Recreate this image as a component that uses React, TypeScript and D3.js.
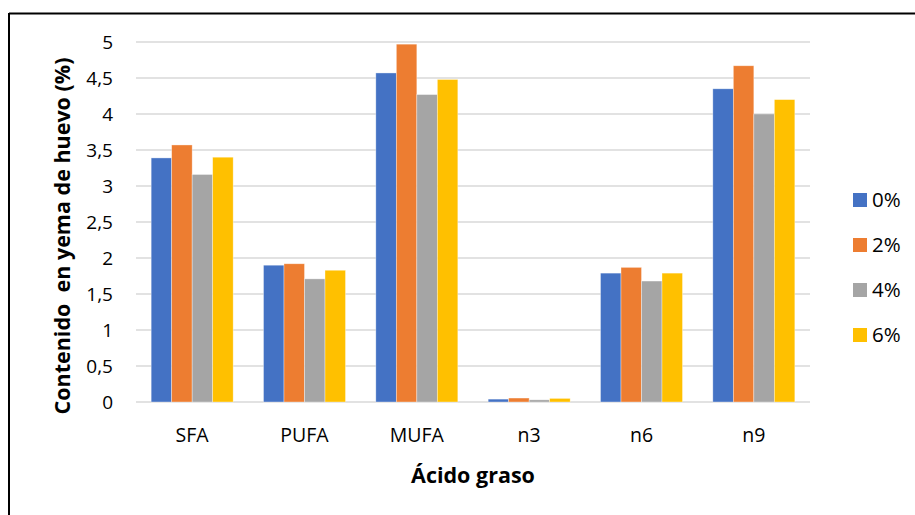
import React from "react";
import * as d3 from "d3";

const categories = ["SFA", "PUFA", "MUFA", "n3", "n6", "n9"];
const seriesNames = ["0%", "2%", "4%", "6%"];
const s0 = [3.39, 1.9, 4.57, 0.04, 1.79, 4.35];
const s2 = [3.57, 1.92, 4.97, 0.055, 1.87, 4.67];
const s4 = [3.16, 1.71, 4.27, 0.03, 1.68, 4.0];
const s6 = [3.4, 1.83, 4.48, 0.05, 1.79, 4.2];
const seriesValues = [s0, s2, s4, s6];
const colors = ["#4472C4", "#ED7D31", "#A5A5A5", "#FFC000"];
const yTicks = [0, 0.5, 1, 1.5, 2, 2.5, 3, 3.5, 4, 4.5, 5];

const W = 915;
const H = 515;
const font = "'Open Sans', sans-serif";

export default function App() {
  const x0 = d3
    .scaleBand<string>()
    .domain(categories)
    .range([136, 810])
    .paddingInner(0.27)
    .paddingOuter(0.135);
  const x1 = d3
    .scaleBand<string>()
    .domain(seriesNames)
    .range([0, x0.bandwidth()]);
  const y = d3.scaleLinear().domain([0, 5]).range([402, 42]);
  const fmt = (v: number) => String(v).replace(".", ",");

  return (
    <svg
      width={W}
      height={H}
      style={{ position: "absolute", left: 0, top: 0, background: "#fff" }}
      fontFamily={font}
    >
      <rect x={0} y={0} width={W} height={H} fill="#fff" />
      {/* frame */}
      <line x1={9} y1={13.5} x2={W} y2={13.5} stroke="#000" strokeWidth={2} />
      <line x1={9} y1={13} x2={9} y2={H} stroke="#000" strokeWidth={2} />
      {/* grid */}
      {yTicks.map((t) => (
        <line
          key={t}
          x1={136}
          x2={810}
          y1={y(t)}
          y2={y(t)}
          stroke="#d9d9d9"
          strokeWidth={1.5}
        />
      ))}
      {/* y tick labels */}
      {yTicks.map((t) => (
        <text
          key={"l" + t}
          x={113}
          y={y(t)}
          dy="0.36em"
          textAnchor="end"
          fontSize={19}
          fill="#000"
        >
          {fmt(t)}
        </text>
      ))}
      {/* bars */}
      {categories.map((c, i) => (
        <g key={c} transform={`translate(${x0(c)},0)`}>
          {seriesNames.map((s, j) => (
            <rect
              key={s}
              x={x1(s)}
              y={y(seriesValues[j][i])}
              width={x1.bandwidth()}
              height={y(0) - y(seriesValues[j][i])}
              fill={colors[j]}
              stroke="#fff"
              strokeOpacity={0.5}
              strokeWidth={0.7}
            />
          ))}
        </g>
      ))}
      {/* x tick labels */}
      {categories.map((c) => (
        <text
          key={"x" + c}
          x={(x0(c) as number) + x0.bandwidth() / 2}
          y={442}
          textAnchor="middle"
          fontSize={19.5}
          fill="#000"
        >
          {c}
        </text>
      ))}
      {/* axis titles */}
      <text
        x={473}
        y={483}
        textAnchor="middle"
        fontSize={21.5}
        fontWeight="bold"
        fill="#000"
      >
        Ácido graso
      </text>
      <text
        transform={`translate(70,236) rotate(-90)`}
        textAnchor="middle"
        fontSize={21.5}
        fontWeight="bold"
        fill="#000"
        style={{ whiteSpace: "pre" }}
      >
        {"Contenido  en yema de huevo (%)"}
      </text>
      {/* legend */}
      {seriesNames.map((s, j) => (
        <g key={"lg" + s} transform={`translate(853,${200 + j * 45})`}>
          <rect x={0} y={-7} width={14} height={14} fill={colors[j]} />
          <text x={19} y={0} dy="0.36em" fontSize={20.5} fill="#000">
            {s}
          </text>
        </g>
      ))}
    </svg>
  );
}
